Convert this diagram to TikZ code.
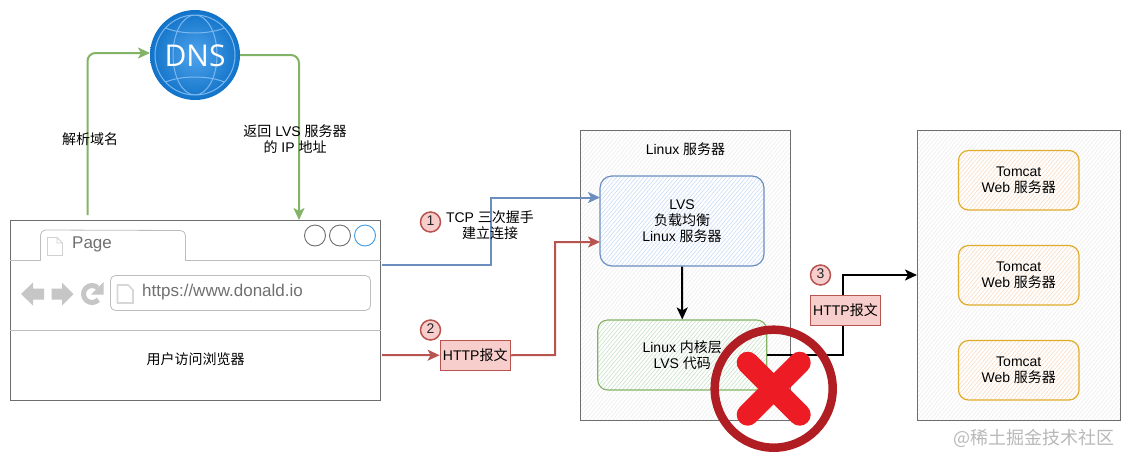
\documentclass[tikz,border=0pt]{standalone}
\usepackage{fontspec}
\setmainfont{Liberation Sans}
\newfontfamily\cjkf{Noto Sans CJK SC}
\newfontfamily\dnsf{Open Sans}
\newcommand\cj[1]{{\cjkf #1}}
\usetikzlibrary{arrows.meta,patterns.meta,calc}
\definecolor{bluel}{HTML}{6C8EBF}
\definecolor{bluef}{HTML}{CFE0F8}
\definecolor{redl}{HTML}{B85450}
\definecolor{redf}{HTML}{F8CECC}
\definecolor{greenl}{HTML}{82B366}
\definecolor{greenf}{HTML}{CFE4CD}
\definecolor{orangel}{HTML}{E0AC2B}
\definecolor{orangef}{HTML}{FADFC8}
\definecolor{browl}{HTML}{6E6E6E}
\definecolor{browg}{HTML}{BDBDBD}
\definecolor{icong}{HTML}{C6C6C6}
\definecolor{texg}{HTML}{707070}
\definecolor{dnsin}{HTML}{4FA3EC}
\definecolor{dnsout}{HTML}{1173C8}
\definecolor{dnsl}{HTML}{7CB8F0}
\definecolor{btnblue}{HTML}{3E9BE6}
\definecolor{ringc}{HTML}{B01E24}
\definecolor{crossc}{HTML}{ED1C24}
\tikzset{
  txt/.style={font=\fontsize{14}{16}\selectfont,align=center,inner sep=0pt,text=black},
  hach/.style={preaction={fill=white},pattern={Lines[angle=50,distance=3pt,line width=.7pt]},pattern color=#1},
  server/.style={draw=browl,line width=1pt,hach=black!6,minimum width=#1,minimum height=289.5pt,inner sep=0pt},
  lvsbox/.style={draw=bluel,line width=1.2pt,rounded corners=12pt,hach=bluef,minimum width=164pt,minimum height=90pt,txt},
  kernelbox/.style={draw=greenl,line width=1.1pt,rounded corners=10pt,hach=greenf,minimum width=169pt,minimum height=70pt,txt},
  tomcat/.style={draw=orangel,line width=1.2pt,rounded corners=10pt,hach=orangef,minimum width=120.5pt,minimum height=59.5pt,txt},
  msg/.style={draw=redl,fill=redf,line width=.8pt,minimum width=70.5pt,minimum height=30.5pt,txt},
  badge/.style={circle,draw=redl,fill=redf,line width=1.5pt,minimum size=20pt,inner sep=0pt,font=\fontsize{14}{14}\selectfont,text=black!85},
  tip/.style={-{Stealth[length=12pt,width=11pt,inset=3pt]}},
  wirebtn/.style={circle,draw=#1,line width=.9pt,minimum size=21pt,inner sep=0pt,fill=white},
}
\begin{document}
\begin{tikzpicture}[x=1pt,y=-1pt]
\useasboundingbox (0,0) rectangle (1131,464);
% servers
\node[server=210pt] (srvA) at (685.5,275.25) {};
\node[server=203pt] (srvB) at (1019,275.25) {};
\node[txt] (srvAl) at (685.5,149) {Linux \cj{服务器}};
% LVS + kernel
\node[lvsbox] (lvs) at (682,221) {LVS\\\cj{负载均衡}\\Linux \cj{服务器}};
\node[kernelbox] (kern) at (682.25,355) {Linux \cj{内核层}\\LVS \cj{代码}};
% Tomcats
\node[tomcat] (t1) at (1018.75,180.25) {Tomcat\\Web \cj{服务器}};
\node[tomcat] (t2) at (1018.75,275.25) {Tomcat\\Web \cj{服务器}};
\node[tomcat] (t3) at (1018.75,370.25) {Tomcat\\Web \cj{服务器}};
% DNS
\node[circle,inner sep=0pt,minimum size=90pt,inner color=dnsin,outer color=dnsout] (dns) at (195,55) {};
\begin{scope}
  \clip (195,55) circle[radius=40pt];
  \draw[dnsl,line width=1pt] (195,55) ellipse[x radius=22pt,y radius=40pt];
  \draw[dnsl,line width=1pt] (158,24) .. controls (175,36) and (215,36) .. (232,24);
  \draw[dnsl,line width=1pt] (158,86) .. controls (175,74) and (215,74) .. (232,86);
\end{scope}
\draw[dnsl,line width=1pt] (195,55) circle[radius=40pt];
\node[font=\dnsf\fontsize{30}{30}\selectfont,text=white,inner sep=0pt] (dnst) at (195,56) {DNS};
% browser
\node[draw=browl,fill=white,line width=1pt,minimum width=370pt,minimum height=180pt,inner sep=0pt] (brow) at (195.5,310.5) {};
\draw[browg,line width=.8pt] (brow.west |- 0,260.5) -- (40.5,260.5) -- (40.5,235) arc[start angle=180,end angle=90,radius=5pt] -- (180.5,230.5) arc[start angle=90,end angle=0,radius=5pt] -- (185.5,260.5) -- (brow.east |- 0,260.5);
\draw[browg,line width=.8pt] (brow.west |- 0,330.5) -- (brow.east |- 0,330.5);
\draw[browg,line width=.8pt,rounded corners=5pt] (110.5,275.5) rectangle (370.5,310.5);
\draw[browg!70,line width=.8pt] (47.5,237.5) -- (57,237.5) -- (62.5,243) -- (62.5,255.5) -- (47.5,255.5) -- cycle (57,237.5) -- (57,243) -- (62.5,243);
\draw[icong!70,line width=1.6pt] (117.5,285) -- (128,285) -- (133,290) -- (133,303) -- (117.5,303) -- cycle;
\node[font=\fontsize{17}{17}\selectfont,text=texg,anchor=west,inner sep=0pt] (tabt) at (72,244.5) {Page};
\node[font=\fontsize{17}{17}\selectfont,text=texg,anchor=west,inner sep=0pt] (url) at (142,292.5) {https://www.donald.io};
\fill[icong] (21,294) -- (33,282.5) -- (33,288.5) -- (44,288.5) -- (44,299.5) -- (33,299.5) -- (33,305.5) -- cycle;
\fill[icong] (73.5,294) -- (62,282.5) -- (62,288.5) -- (51.5,288.5) -- (51.5,299.5) -- (62,299.5) -- (62,305.5) -- cycle;
\draw[icong,line width=5pt] (97.7,287.7) arc[start angle=48,end angle=318,radius=8.5pt];
\fill[icong] (103.5,282) -- (103.5,294.5) -- (91,294.5) -- cycle;
\node[wirebtn=browl] (b1) at (315,235.5) {};
\node[wirebtn=browl] (b2) at (340,235.5) {};
\node[wirebtn=btnblue] (b3) at (365,235.5) {};
\node[txt] (browt) at (195.5,359) {\cj{用户访问浏览器}};
% endpoints
\coordinate (gs) at (87.5,215);
\coordinate (gc1) at (87.5,53);
\coordinate (ge) at (150,53);
\coordinate (rs) at (240,55);
\coordinate (rc1) at (299,55);
\coordinate (re) at (299,220);
\coordinate (bs) at (382,264.5);
\coordinate (bc) at (490.5,264.5);
\coordinate (bm) at (490.5,197.5);
\coordinate (be) at (600,197.5);
\coordinate (rds) at (382,355);
\coordinate (rdm1) at (555,355);
\coordinate (rdm2) at (555,242);
\coordinate (rde) at (600,242);
\coordinate (ks) at (767,355);
\coordinate (km1) at (842.5,355);
\coordinate (km2) at (842.5,275);
\coordinate (ke) at (917,275);
% connectors
\draw[greenl,line width=2pt,tip,rounded corners=8pt] (gs) -- (gc1) -- (ge);
\draw[greenl,line width=2pt,tip,rounded corners=8pt] (rs) -- (rc1) -- (re);
\draw[bluel,line width=2pt,tip] (bs) -- (bc) -- (bm) -- (be);
\node[msg] (m2) at (475.25,355.25) {HTTP\cj{报文}};
\draw[redl,line width=2pt,tip] (rds) -- (m2.west);
\draw[redl,line width=2pt,tip] (m2.east) -- (rdm1) -- (rdm2) -- (rde);
\draw[black,line width=2pt,tip] (lvs.south) -- (kern.north);
\draw[black,line width=2pt,tip] (ks) -- (km1) -- (km2) -- (ke);
\node[msg] (m3) at (845.5,310.25) {HTTP\cj{报文}};
% labels
\node[txt] (l1) at (90,139) {\cj{解析域名}};
\node[txt] (l2) at (295,139.5) {\cj{返回} LVS \cj{服务器}\\\cj{的} IP \cj{地址}};
\node[txt] (l3) at (490,225) {TCP \cj{三次握手}\\\cj{建立连接}};
\node[badge] (c1) at (430.5,222) {\raisebox{2pt}{1}};
\node[badge] (c2) at (430.5,330) {\raisebox{2pt}{2}};
\node[badge] (c3) at (820.5,275) {\raisebox{2pt}{3}};
% cross
\node[circle,draw=ringc,line width=8.5pt,minimum size=118pt,inner sep=0pt] (ring) at (773.7,388.7) {};
\draw[crossc,line width=22pt,line cap=round] ($(ring)+(-26,-26)$) -- ($(ring)+(26,26)$);
\draw[crossc,line width=22pt,line cap=round] ($(ring)+(26,-26)$) -- ($(ring)+(-26,26)$);
% watermark
\node[font=\cjkf\fontsize{18}{18}\selectfont,text=black!28,anchor=east,inner sep=0pt] (wm) at (1115,438) {@稀土掘金技术社区};
\end{tikzpicture}
\end{document}
